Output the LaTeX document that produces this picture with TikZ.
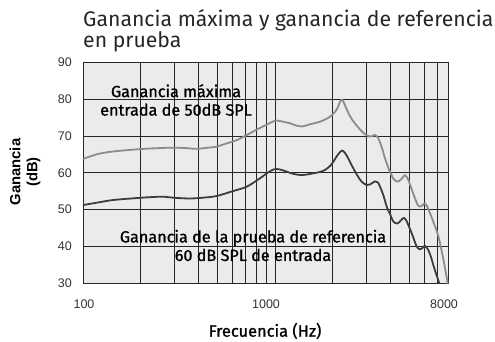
\documentclass[tikz,border=0pt]{standalone}
\usepackage{fontspec}
\usepackage{tikz}
\setmainfont{Fira Sans}
\newfontfamily\labelfont[FakeBold=1]{Fira Sans}
\newfontfamily\tickfont{Liberation Sans}
\usetikzlibrary{positioning}

\begin{document}
\begin{tikzpicture}[x=1pt, y=-1pt,
	gridline/.style={line width=0.9pt, black!85},
	maxgain/.style={line width=1.8pt, black!45, line join=round, line cap=round},
	refgain/.style={line width=1.8pt, black!76, line join=round, line cap=round},
	ticklabel/.style={font=\tickfont\fontsize{12.5}{13}\selectfont, text=black!80, inner sep=0pt},
	curvelabel/.style={font=\labelfont\fontsize{16.2}{18.5}\selectfont, align=center, inner sep=0pt}]
	\useasboundingbox (0,0) rectangle (495,342);
	\fill [black!8] (83,62.3) rectangle (448.4,283.3);
	\foreach \d in {40,50,...,80}
		\draw [gridline] (83,{283.3-3.683*(\d-30)}) -- (448.4,{283.3-3.683*(\d-30)});
	\foreach \f in {200,300,...,1000,2000,3000,...,7000}
		\draw [gridline] ({83+83.38*ln(\f/100)},62.3) -- ++(0,221);
	\draw [gridline] (83,62.3) rectangle (448.4,283.3);

	\draw [maxgain] plot [smooth, tension=0.5] coordinates {(83.3,158.8) (98,154) (113,151.5) (141.7,149) (170,147.7) (185,148) (196,148.8) (210,147.5) (217,146.5) (227,143.3) (237,140) (246,135.5) (257,129.5) (266,125) (272,122) (276.5,120.5) (283,121.7) (290,123.3) (297,125.8) (302,126.5) (310,124.3) (320,121.7) (328,118) (333,114) (337,109) (340,102) (342,99.5) (344,103) (347,110) (351.7,119) (358.3,127.5) (363,132.5) (367,135.5) (371,136.5) (375,135) (378.3,138.3) (382,148) (385,158.3) (390,172) (394,179.5) (398,181.5) (402,178.5) (405,175) (408.3,180) (413,193) (418,205.5) (421.7,206) (425,203.3) (428.3,209) (433,221) (438.3,236) (443.3,259) (447.7,283.3)};
	\draw [refgain] plot [smooth, tension=0.5] coordinates {(83.3,205) (98,202.5) (113.3,200) (141.7,197.7) (161.7,196.7) (173.3,197.7) (190,198.5) (205,197.5) (216.7,196) (233.3,191) (246.7,186.7) (260,178.3) (268,172.5) (274,169.3) (279,169.3) (285,171) (292,173.5) (300,175) (307,174.5) (313.3,173.3) (320,172) (325,170) (330,166) (333.3,161.7) (338,154.5) (342,150.5) (345,153) (348,158) (353.3,168.3) (358,176.5) (362,182) (366.7,185) (370,184.5) (375,181.3) (378,182.5) (380,186.7) (383.3,195) (387,207.5) (390,214) (393.3,221.5) (397,223.5) (400,221.5) (403.5,217.8) (406,220) (408.3,225) (412,234) (416.7,246.5) (420,249.3) (423,247.5) (425,245.8) (428.3,250) (431,257) (433.3,265) (436,273.5) (439.3,283.3)};

	\node [curvelabel] (maxlabel) at (176,100) {Ganancia máxima\\entrada de 50dB SPL};
	\node [curvelabel] (reflabel) at (253,245.5) {Ganancia de la prueba de referencia\\60 dB SPL de entrada};

	\foreach \d in {30,40,...,90}
		\node [ticklabel, anchor=east] (y\d) at (72,{283.3-3.683*(\d-30)}) {\d};
	\node [ticklabel] (x100) at (84,304.5) {100};
	\node [ticklabel] (x1000) at (266,304.5) {1000};
	\node [ticklabel] (x8000) at (444,304.5) {8000};

	\node [font=\labelfont\fontsize{16.4}{17}\selectfont, inner sep=0pt] (xtitle) at (265,331) {Frecuencia (Hz)};
	\node [font=\tickfont\bfseries\fontsize{14.8}{17}\selectfont, align=center, inner sep=0pt, rotate=90] (ytitle) at (25,172) {Ganancia\\(dB)};

	\node [font=\fontsize{21.2}{23}\selectfont, text=black!85, anchor=base west, inner sep=0pt] (title1) at (83,26.7) {Ganancia máxima y ganancia de referencia};
	\node [font=\fontsize{21.2}{23}\selectfont, text=black!85, anchor=base west, inner sep=0pt] (title2) at (83,47.8) {en prueba};
\end{tikzpicture}
\end{document}
